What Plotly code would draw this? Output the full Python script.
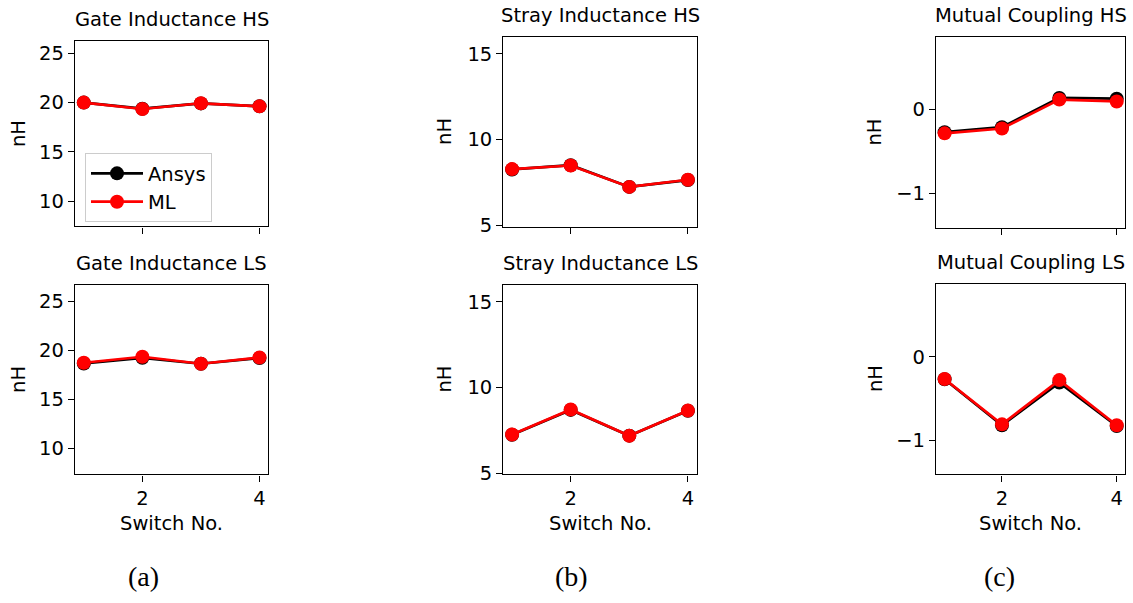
import plotly.graph_objects as go

W, H = 1133, 603

switch_no = [1, 2, 3, 4]

gate_hs_ansys = [20.0, 19.38, 19.92, 19.63]
gate_hs_ml = [20.0, 19.35, 19.93, 19.62]
gate_ls_ansys = [18.65, 19.22, 18.62, 19.2]
gate_ls_ml = [18.72, 19.33, 18.62, 19.25]

stray_hs_ansys = [8.25, 8.5, 7.23, 7.63]
stray_hs_ml = [8.27, 8.48, 7.23, 7.65]
stray_ls_ansys = [7.25, 8.7, 7.2, 8.65]
stray_ls_ml = [7.27, 8.72, 7.19, 8.66]

mutual_hs_ansys = [-0.27, -0.21, 0.14, 0.13]
mutual_hs_ml = [-0.284, -0.226, 0.12, 0.097]
mutual_ls_ansys = [-0.27, -0.82, -0.31, -0.83]
mutual_ls_ml = [-0.267, -0.81, -0.28, -0.82]

titles = ["Gate Inductance HS", "Gate Inductance LS",
          "Stray Inductance HS", "Stray Inductance LS",
          "Mutual Coupling HS", "Mutual Coupling LS"]
y_tickvals = [[10, 15, 20, 25], [10, 15, 20, 25],
              [5, 10, 15], [5, 10, 15],
              [-1, 0], [-1, 0]]
y_ticktext = [["10", "15", "20", "25"], ["10", "15", "20", "25"],
              ["5", "10", "15"], ["5", "10", "15"],
              ["\u22121", "0"], ["\u22121", "0"]]
x_tickvals = [2, 4]
x_ticktext = ["2", "4"]
panel_labels = ["(a)", "(b)", "(c)"]
series_names = ["Ansys", "ML"]

ansys_all = [gate_hs_ansys, gate_ls_ansys, stray_hs_ansys, stray_ls_ansys, mutual_hs_ansys, mutual_ls_ansys]
ml_all = [gate_hs_ml, gate_ls_ml, stray_hs_ml, stray_ls_ml, mutual_hs_ml, mutual_ls_ml]

# layout geometry (pixels)
x_px = [(75, 268.3), (75, 268.3), (503.3, 696.7), (503.3, 696.7), (936, 1125.3), (936, 1125.3)]
y_px = [(41.7, 230.7), (290, 483.3), (37.7, 231), (290, 483.3), (37.7, 232.3), (289, 483.3)]
y_ranges = [(7.44, 26.25), (7.34, 26.67), (4.90, 15.99), (4.94, 15.99), (-1.417, 0.868), (-1.41, 0.874)]
x_range = (0.85, 4.15)

FONT = "DejaVu Sans"
FS = 19.5

fig = go.Figure()
layout = dict(
    width=W, height=H, margin=dict(l=0, r=0, t=0, b=0),
    paper_bgcolor="white", plot_bgcolor="white",
    font=dict(family=FONT, size=FS, color="black"),
    showlegend=True,
    legend=dict(x=85 / W, y=1 - 156 / H, xanchor="left", yanchor="top",
                bordercolor="#cccccc", borderwidth=1, bgcolor="white",
                font=dict(family=FONT, size=FS, color="black"),
                itemwidth=52, tracegroupgap=0),
)
annotations = []
for i in range(6):
    n = i + 1
    xa = "x" if n == 1 else f"x{n}"
    ya = "y" if n == 1 else f"y{n}"
    fig.add_trace(go.Scatter(x=switch_no, y=ansys_all[i], mode="lines+markers",
                             name=series_names[0], legendgroup="a", showlegend=(i == 0),
                             line=dict(color="black", width=2.7),
                             marker=dict(color="black", size=14),
                             xaxis=xa, yaxis=ya))
    fig.add_trace(go.Scatter(x=switch_no, y=ml_all[i], mode="lines+markers",
                             name=series_names[1], legendgroup="b", showlegend=(i == 0),
                             line=dict(color="#ff0000", width=2.7),
                             marker=dict(color="#ff0000", size=14),
                             xaxis=xa, yaxis=ya))
    x0, x1 = x_px[i]
    y0, y1 = y_px[i]
    bottom = (i % 2 == 1)
    axcommon = dict(showline=True, mirror=True, linecolor="black", linewidth=1.3,
                    ticks="outside", ticklen=6, tickwidth=1.3, tickcolor="black",
                    showgrid=False, zeroline=False,
                    tickfont=dict(family=FONT, size=FS, color="black"))
    layout["xaxis" if n == 1 else f"xaxis{n}"] = dict(
        domain=[x0 / W, x1 / W], anchor=ya, range=list(x_range),
        tickmode="array", tickvals=x_tickvals, ticktext=x_ticktext,
        showticklabels=bottom, **axcommon)
    layout["yaxis" if n == 1 else f"yaxis{n}"] = dict(
        domain=[1 - y1 / H, 1 - y0 / H], anchor=xa, range=list(y_ranges[i]),
        tickmode="array", tickvals=y_tickvals[i], ticktext=y_ticktext[i], **axcommon)
    cx = (x0 + x1) / 2
    # title
    annotations.append(dict(text=titles[i], x=cx / W, y=1 - (y0 - 22) / H, xref="paper", yref="paper",
                            xanchor="center", yanchor="middle", showarrow=False,
                            font=dict(family=FONT, size=FS, color="black")))
    # y label
    ylab_x = [18.3, 18.3, 445, 445, 875, 875][i]
    annotations.append(dict(text="nH", x=ylab_x / W, y=1 - ((y0 + y1) / 2) / H, xref="paper", yref="paper",
                            xanchor="center", yanchor="middle", showarrow=False, textangle=-90,
                            font=dict(family=FONT, size=FS, color="black")))
    if bottom:
        annotations.append(dict(text="Switch No.", x=cx / W, y=1 - 533.3 / H, xref="paper", yref="paper",
                                xanchor="center", yanchor="middle", showarrow=False,
                                font=dict(family=FONT, size=FS, color="black")))

for lab, cxp in zip(panel_labels, [143, 571, 999]):
    annotations.append(dict(text=lab, x=cxp / W, y=1 - 587 / H, xref="paper", yref="paper",
                            xanchor="center", yanchor="middle", showarrow=False,
                            font=dict(family="Liberation Serif", size=28, color="black")))

layout["annotations"] = annotations
fig.update_layout(**layout)
fig.write_html("out.html")
